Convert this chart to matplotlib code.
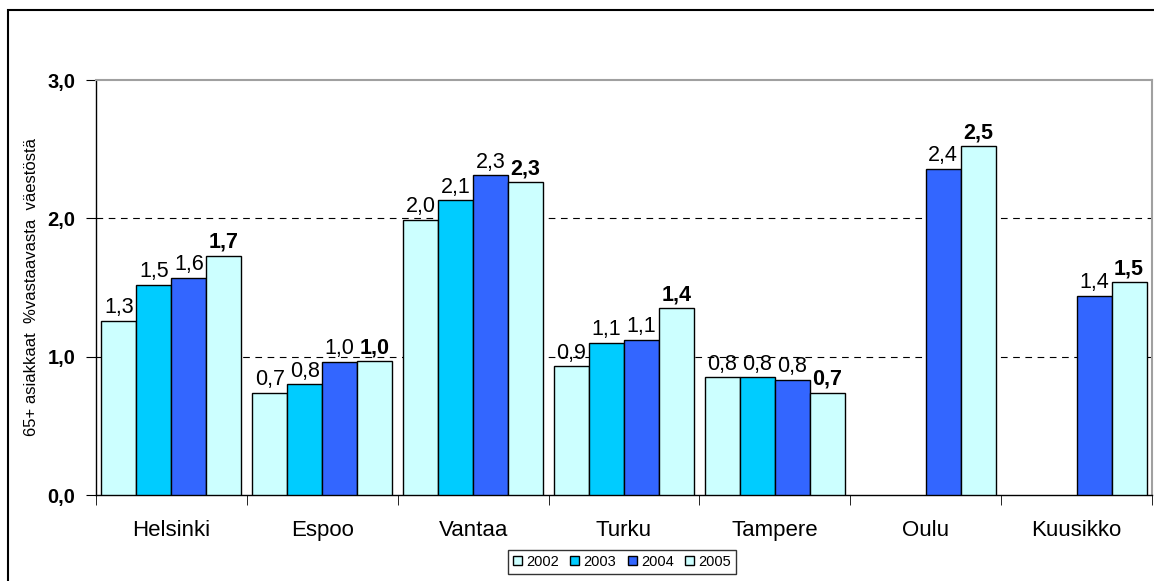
import matplotlib
matplotlib.use("Agg")
import matplotlib.pyplot as plt
from matplotlib.patches import Rectangle
import numpy as np

plt.rcParams['font.family'] = ['Liberation Sans', 'DejaVu Sans']

categories = ["Helsinki", "Espoo", "Vantaa", "Turku", "Tampere", "Oulu", "Kuusikko"]
years = ["2002", "2003", "2004", "2005"]
v2002 = [1.26, 0.74, 1.99, 0.93, 0.85, np.nan, np.nan]
v2003 = [1.52, 0.80, 2.13, 1.10, 0.85, np.nan, np.nan]
v2004 = [1.57, 0.96, 2.31, 1.12, 0.83, 2.36, 1.44]
v2005 = [1.73, 0.97, 2.26, 1.35, 0.74, 2.52, 1.54]
series = [v2002, v2003, v2004, v2005]
colors = ["#CCFFFF", "#00CCFF", "#3366FF", "#CCFFFF"]
ylabel = "65+ asiakkaat  %vastaavasta  väestöstä"

fig = plt.figure(figsize=(11.54, 5.81), dpi=100)
ax = fig.add_axes([96/1154, 1-495/581, (1152-96)/1154, (495-80)/581])

x = np.arange(len(categories))
w = 0.232
for i, (vals, c) in enumerate(zip(series, colors)):
    pos = x + (i - 1.5) * w
    ax.bar(pos, vals, width=w, color=c, edgecolor="black", linewidth=1.0,
           label=years[i], zorder=3)
    for p, v in zip(pos, vals):
        if np.isnan(v):
            continue
        txt = f"{v:.1f}".replace(".", ",")
        ax.annotate(txt, (p, v), xytext=(0, 2), textcoords="offset points",
                    ha="center", va="bottom", fontsize=15.5,
                    fontweight="bold" if i == 3 else "normal", zorder=4)

ax.set_xlim(-0.5, len(categories) - 0.5)
ax.set_ylim(0, 3.0)
ax.set_yticks([0, 1, 2, 3])
ax.set_yticklabels(["0,0", "1,0", "2,0", "3,0"], fontweight="bold", fontsize=14.5)
ax.set_xticks(x)
ax.set_xticklabels(categories, fontsize=16)
ax.tick_params(axis="x", length=0, pad=18)
ax.set_xticks(np.arange(len(categories) + 1) - 0.5, minor=True)
ax.tick_params(axis="x", which="minor", length=7, direction="out", color="black")
ax.tick_params(axis="y", length=7, direction="out", pad=8)
for yv in [1, 2]:
    ax.axhline(yv, color="black", linestyle=(0, (6, 5)), linewidth=0.8, zorder=1)

ax.spines["top"].set_color("#A0A0A0")
ax.spines["right"].set_color("#A0A0A0")
ax.spines["top"].set_linewidth(1.5)
ax.spines["right"].set_linewidth(1.5)
ax.spines["left"].set_linewidth(1.0)
ax.spines["bottom"].set_linewidth(1.0)

ax.set_ylabel(ylabel, fontsize=12)
ax.yaxis.set_label_coords(-(96 - 39) / 1056, 0.5)

leg = fig.legend(loc="center", bbox_to_anchor=(622/1154, 1-562/581), ncol=4,
                 fontsize=10.5, frameon=True, fancybox=False, edgecolor="black",
                 handlelength=0.6, handleheight=0.6, handletextpad=0.3,
                 columnspacing=0.8, borderpad=0.35)
leg.get_frame().set_linewidth(1.0)

fig.patches.append(Rectangle((8/1154, -0.1), 1.2, 1 - 10/581 + 0.1, transform=fig.transFigure,
                             fill=False, edgecolor="black", linewidth=1.5, zorder=0))

fig.savefig("out.png", dpi=100)
